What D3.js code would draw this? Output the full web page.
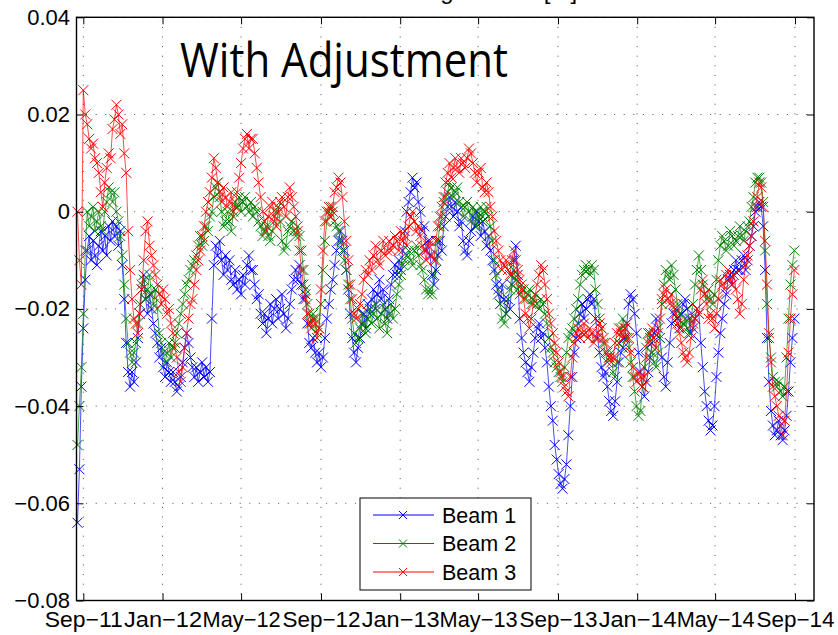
<!DOCTYPE html>
<html>
<head>
<meta charset="utf-8">
<script src="https://cdn.jsdelivr.net/npm/d3@7"></script>
<style>
  body{margin:0;background:#fff;}
</style>
</head>
<body>
<div class="canvas"></div>
<script>
// sampling of the series (one value every 3 days)
const startDate = new Date(2011, 7, 23);
const stepDays = 3;

const beam1 = [
  -0.064,-0.053,-0.036,-0.024,-0.014,-0.008,-0.005,-0.010,-0.006,-0.009,
  -0.011,-0.007,-0.004,-0.008,-0.005,-0.009,-0.003,-0.006,-0.002,-0.005,
  -0.003,-0.007,-0.004,-0.011,-0.018,-0.027,-0.033,-0.036,-0.033,-0.035,
  -0.031,-0.026,-0.021,-0.016,-0.013,-0.018,-0.021,-0.017,-0.020,-0.023,
  -0.025,-0.027,-0.030,-0.028,-0.032,-0.034,-0.031,-0.033,-0.035,-0.033,
  -0.035,-0.037,-0.036,-0.034,-0.031,-0.028,-0.025,-0.027,-0.030,-0.032,
  -0.034,-0.032,-0.035,-0.033,-0.031,-0.034,-0.032,-0.035,-0.033,-0.022,
  -0.011,-0.007,-0.009,-0.006,-0.010,-0.013,-0.009,-0.012,-0.010,-0.014,
  -0.015,-0.012,-0.016,-0.014,-0.017,-0.013,-0.015,-0.011,-0.009,-0.012,
  -0.012,-0.015,-0.018,-0.017,-0.021,-0.023,-0.021,-0.025,-0.022,-0.019,
  -0.023,-0.020,-0.018,-0.022,-0.020,-0.017,-0.021,-0.024,-0.022,-0.019,
  -0.016,-0.014,-0.012,-0.014,-0.011,-0.015,-0.018,-0.017,-0.023,-0.027,
  -0.028,-0.026,-0.029,-0.031,-0.029,-0.032,-0.030,-0.026,-0.022,-0.019,
  -0.016,-0.014,-0.011,-0.008,-0.006,-0.004,-0.006,-0.008,-0.012,-0.016,
  -0.021,-0.026,-0.029,-0.031,-0.028,-0.026,-0.023,-0.021,-0.024,-0.019,
  -0.021,-0.018,-0.016,-0.020,-0.017,-0.014,-0.018,-0.016,-0.020,-0.022,
  -0.018,-0.015,-0.013,-0.011,-0.013,-0.010,-0.012,-0.008,-0.004,0.000,
  0.002,0.004,0.007,0.005,0.006,0.002,0.000,-0.004,-0.003,-0.008,
  -0.006,-0.009,-0.013,-0.015,-0.012,-0.009,-0.006,-0.008,-0.003,-0.001,
  0.001,0.003,0.001,-0.001,0.002,0.000,-0.003,-0.002,-0.006,-0.008,
  -0.009,-0.006,-0.004,-0.001,-0.003,0.000,-0.002,-0.005,-0.002,-0.004,
  -0.007,-0.005,-0.008,-0.010,-0.012,-0.015,-0.017,-0.019,-0.015,-0.018,
  -0.021,-0.018,-0.020,-0.015,-0.010,-0.007,-0.013,-0.022,-0.026,-0.029,
  -0.031,-0.033,-0.035,-0.032,-0.029,-0.026,-0.024,-0.023,-0.026,-0.025,
  -0.028,-0.031,-0.036,-0.040,-0.043,-0.048,-0.051,-0.054,-0.056,-0.057,
  -0.055,-0.052,-0.046,-0.040,-0.034,-0.029,-0.026,-0.023,-0.021,-0.019,
  -0.022,-0.020,-0.018,-0.017,-0.019,-0.018,-0.022,-0.026,-0.029,-0.032,
  -0.034,-0.033,-0.036,-0.039,-0.041,-0.042,-0.039,-0.035,-0.031,-0.029,
  -0.028,-0.026,-0.023,-0.019,-0.017,-0.018,-0.021,-0.025,-0.029,-0.033,
  -0.036,-0.038,-0.035,-0.033,-0.030,-0.027,-0.025,-0.022,-0.024,-0.026,
  -0.030,-0.034,-0.036,-0.031,-0.027,-0.023,-0.021,-0.020,-0.022,-0.024,
  -0.021,-0.019,-0.018,-0.020,-0.022,-0.025,-0.024,-0.022,-0.020,-0.021,
  -0.027,-0.032,-0.037,-0.040,-0.043,-0.045,-0.044,-0.040,-0.034,-0.029,
  -0.025,-0.022,-0.019,-0.017,-0.014,-0.013,-0.015,-0.012,-0.010,-0.012,
  -0.012,-0.010,-0.009,-0.012,-0.010,-0.007,-0.005,-0.003,0.000,0.001,
  0.002,0.001,-0.003,-0.012,-0.026,-0.035,-0.041,-0.044,-0.046,-0.045,
  -0.043,-0.046,-0.047,-0.045,-0.042,-0.037,-0.031,-0.026,-0.022
];
const beam2 = [
  -0.048,-0.040,-0.032,-0.021,-0.008,0.000,-0.003,-0.001,0.001,-0.004,
  -0.002,0.000,-0.003,-0.004,0.000,0.002,0.005,0.004,0.002,0.004,
  0.000,-0.002,-0.005,-0.009,-0.015,-0.022,-0.027,-0.029,-0.031,-0.029,
  -0.027,-0.023,-0.019,-0.015,-0.014,-0.018,-0.016,-0.013,-0.017,-0.019,
  -0.016,-0.020,-0.025,-0.027,-0.029,-0.031,-0.029,-0.027,-0.030,-0.028,
  -0.027,-0.025,-0.023,-0.021,-0.019,-0.017,-0.015,-0.014,-0.012,-0.011,
  -0.010,-0.009,-0.007,-0.005,-0.007,-0.006,-0.003,-0.004,-0.001,0.000,
  0.003,0.005,0.006,0.003,0.000,-0.003,-0.002,0.000,-0.002,-0.004,
  0.000,0.002,0.001,0.003,0.000,0.002,0.003,0.001,0.000,0.002,
  -0.001,0.001,0.000,-0.002,-0.003,-0.005,-0.004,-0.003,-0.005,-0.006,
  -0.004,-0.002,0.000,0.001,-0.002,-0.006,-0.008,-0.007,-0.004,-0.003,
  -0.002,-0.004,-0.005,-0.003,-0.005,-0.008,-0.012,-0.016,-0.019,-0.021,
  -0.023,-0.021,-0.022,-0.025,-0.024,-0.019,-0.012,-0.006,-0.002,0.000,
  0.001,0.000,-0.002,-0.003,-0.004,-0.006,-0.008,-0.010,-0.012,-0.015,
  -0.018,-0.022,-0.025,-0.027,-0.026,-0.024,-0.021,-0.023,-0.025,-0.022,
  -0.020,-0.023,-0.021,-0.019,-0.022,-0.024,-0.021,-0.019,-0.023,-0.025,
  -0.021,-0.019,-0.022,-0.020,-0.017,-0.015,-0.013,-0.011,-0.010,-0.009,
  -0.008,-0.010,-0.011,-0.008,-0.007,-0.009,-0.011,-0.012,-0.014,-0.016,
  -0.017,-0.016,-0.017,-0.013,-0.010,-0.006,-0.003,-0.001,0.002,0.003,
  0.004,0.006,0.005,0.003,0.004,0.005,0.002,0.001,-0.001,0.001,
  0.002,0.000,-0.002,0.001,0.000,-0.003,-0.001,0.001,-0.001,0.000,
  0.001,-0.001,-0.003,-0.006,-0.010,-0.013,-0.016,-0.019,-0.022,-0.023,
  -0.021,-0.018,-0.016,-0.013,-0.012,-0.014,-0.016,-0.017,-0.015,-0.016,
  -0.018,-0.017,-0.016,-0.019,-0.018,-0.017,-0.019,-0.020,-0.018,-0.019,
  -0.021,-0.023,-0.026,-0.028,-0.029,-0.031,-0.032,-0.033,-0.034,-0.035,
  -0.032,-0.029,-0.026,-0.025,-0.024,-0.022,-0.020,-0.018,-0.015,-0.013,
  -0.012,-0.011,-0.012,-0.013,-0.011,-0.012,-0.016,-0.019,-0.022,-0.024,
  -0.027,-0.029,-0.031,-0.030,-0.029,-0.033,-0.034,-0.031,-0.027,-0.024,
  -0.022,-0.024,-0.026,-0.028,-0.031,-0.034,-0.037,-0.040,-0.042,-0.041,
  -0.036,-0.032,-0.028,-0.025,-0.026,-0.029,-0.031,-0.032,-0.029,-0.026,
  -0.019,-0.015,-0.012,-0.013,-0.014,-0.011,-0.013,-0.016,-0.019,-0.021,
  -0.024,-0.023,-0.022,-0.024,-0.025,-0.022,-0.019,-0.015,-0.012,-0.009,
  -0.012,-0.015,-0.017,-0.018,-0.016,-0.018,-0.019,-0.017,-0.014,-0.010,
  -0.007,-0.005,-0.006,-0.008,-0.007,-0.004,-0.005,-0.007,-0.006,-0.005,
  -0.003,-0.005,-0.006,-0.004,-0.003,-0.002,0.001,0.003,0.006,0.007,
  0.007,0.006,0.002,-0.008,-0.019,-0.026,-0.030,-0.034,-0.035,-0.036,
  -0.035,-0.037,-0.038,-0.036,-0.030,-0.022,-0.015,-0.011,-0.008
];
const beam3 = [
  0.000,-0.010,-0.015,0.025,0.020,0.018,0.015,0.013,0.014,0.011,
  0.010,0.008,0.004,0.001,0.006,0.009,0.012,0.011,0.017,0.019,
  0.022,0.020,0.016,0.018,0.012,0.008,-0.004,-0.012,-0.018,-0.022,
  -0.023,-0.025,-0.021,-0.016,-0.010,-0.004,-0.002,-0.007,-0.009,-0.011,
  -0.013,-0.015,-0.017,-0.019,-0.016,-0.018,-0.021,-0.020,-0.023,-0.025,
  -0.028,-0.030,-0.033,-0.035,-0.032,-0.028,-0.025,-0.022,-0.019,-0.018,
  -0.015,-0.012,-0.010,-0.008,-0.005,-0.003,0.000,0.002,0.004,0.007,
  0.011,0.009,0.006,0.004,0.002,0.005,0.003,0.001,0.002,0.004,
  -0.001,0.001,0.004,0.007,0.010,0.013,0.015,0.016,0.013,0.015,
  0.015,0.012,0.009,0.006,0.003,0.000,-0.002,-0.004,-0.001,0.001,
  0.002,-0.001,-0.003,0.000,0.002,0.003,0.001,-0.001,0.003,0.005,
  0.003,0.001,-0.001,-0.004,-0.008,-0.012,-0.015,-0.018,-0.021,-0.023,
  -0.024,-0.022,-0.023,-0.026,-0.024,-0.016,-0.008,-0.002,0.000,0.001,
  -0.001,0.001,0.004,0.005,0.007,0.006,0.003,-0.002,-0.006,-0.010,
  -0.015,-0.018,-0.021,-0.022,-0.020,-0.019,-0.017,-0.014,-0.012,-0.013,
  -0.010,-0.012,-0.009,-0.007,-0.010,-0.011,-0.008,-0.006,-0.009,-0.008,
  -0.006,-0.008,-0.007,-0.005,-0.006,-0.008,-0.004,-0.006,-0.005,-0.007,
  -0.003,-0.001,0.000,-0.002,-0.004,-0.003,-0.005,-0.007,-0.008,-0.010,
  -0.007,-0.006,-0.009,-0.010,-0.006,-0.003,-0.001,0.001,0.003,0.006,
  0.008,0.010,0.007,0.009,0.011,0.009,0.008,0.011,0.010,0.009,
  0.011,0.013,0.012,0.010,0.008,0.006,0.008,0.009,0.005,0.004,
  0.006,0.004,0.001,-0.001,-0.004,-0.006,-0.008,-0.010,-0.012,-0.011,
  -0.010,-0.012,-0.013,-0.010,-0.008,-0.010,-0.012,-0.014,-0.016,-0.018,
  -0.021,-0.022,-0.024,-0.022,-0.019,-0.017,-0.015,-0.013,-0.011,-0.012,
  -0.015,-0.018,-0.021,-0.023,-0.025,-0.027,-0.029,-0.031,-0.033,-0.034,
  -0.036,-0.037,-0.038,-0.034,-0.030,-0.027,-0.025,-0.024,-0.026,-0.025,
  -0.023,-0.025,-0.026,-0.024,-0.025,-0.027,-0.026,-0.025,-0.023,-0.024,
  -0.026,-0.027,-0.029,-0.030,-0.031,-0.030,-0.027,-0.025,-0.024,-0.025,
  -0.026,-0.024,-0.023,-0.026,-0.029,-0.032,-0.034,-0.035,-0.033,-0.034,
  -0.036,-0.034,-0.030,-0.027,-0.025,-0.024,-0.026,-0.028,-0.025,-0.022,
  -0.018,-0.017,-0.016,-0.018,-0.019,-0.017,-0.019,-0.021,-0.023,-0.025,
  -0.027,-0.029,-0.030,-0.031,-0.029,-0.026,-0.023,-0.022,-0.020,-0.021,
  -0.016,-0.014,-0.017,-0.019,-0.022,-0.021,-0.022,-0.024,-0.021,-0.018,
  -0.014,-0.015,-0.016,-0.013,-0.012,-0.014,-0.015,-0.013,-0.016,-0.018,
  -0.021,-0.019,-0.014,-0.011,-0.009,-0.007,-0.005,-0.002,0.001,0.003,
  0.006,0.005,0.001,-0.006,-0.015,-0.025,-0.031,-0.036,-0.038,-0.040,
  -0.042,-0.044,-0.046,-0.043,-0.037,-0.029,-0.022,-0.017,-0.012
];

const seriesNames = ['Beam 1', 'Beam 2', 'Beam 3'];
const seriesColors = ['#0000ff', '#008000', '#ff0000'];

const tickDates = ['2011-09-01','2012-01-01','2012-05-01','2012-09-01','2013-01-01',
                   '2013-05-01','2013-09-01','2014-01-01','2014-05-01','2014-09-01'];
const tickLabels = ['Sep\u221211','Jan\u221212','May\u221212','Sep\u221212','Jan\u221213',
                    'May\u221213','Sep\u221213','Jan\u221214','May\u221214','Sep\u221214'];
const yTicks = [0.04, 0.02, 0, -0.02, -0.04, -0.06, -0.08];
const yTickLabels = ['0.04','0.02','0','\u22120.02','\u22120.04','\u22120.06','\u22120.08'];

const width = 838, height = 635;
const margin = {top: 17.3, right: 24, bottom: 34.5, left: 76.5};
const graphWidth = width - margin.left - margin.right;
const graphHeight = height - margin.top - margin.bottom;
const sans = "'Liberation Sans', Arial, Helvetica, sans-serif";

const svg = d3.select('.canvas').append('svg')
    .attr('width', width)
    .attr('height', height)
    .style('font-family', sans);

const graph = svg.append('g')
    .attr('transform', `translate(${margin.left},${margin.top})`);

const parse = d3.timeParse('%Y-%m-%d');
const tickVals = tickDates.map(parse);

const x = d3.scaleTime()
    .domain([new Date(2011, 7, 21, 12), new Date(2014, 8, 30, 7)])
    .range([0, graphWidth]);
const y = d3.scaleLinear()
    .domain([-0.08, 0.04])
    .range([graphHeight, 0]);

// dotted grid
const grid = graph.append('g')
    .attr('stroke', '#3a3a3a')
    .attr('stroke-width', 0.9)
    .attr('stroke-dasharray', '1,8.6');
grid.selectAll('.vg').data(tickVals).enter().append('line')
    .attr('x1', d => x(d)).attr('x2', d => x(d))
    .attr('y1', 0).attr('y2', graphHeight);
grid.selectAll('.hg').data(yTicks).enter().append('line')
    .attr('y1', d => y(d)).attr('y2', d => y(d))
    .attr('x1', 0).attr('x2', graphWidth);

// series: blue first, red ends on top
const series = [beam1, beam2, beam3].map((vals, k) => ({
  name: seriesNames[k],
  color: seriesColors[k],
  points: vals.map((v, i) => ({date: d3.timeDay.offset(startDate, i * stepDays), v: v}))
}));

const line = d3.line().x(d => x(d.date)).y(d => y(d.v));
const cross = 'M-4,-4L4,4M-4,4L4,-4';
const bigCross = 'M-5,-5L5,5M-5,5L5,-5';

series.forEach(s => {
  const g = graph.append('g');
  g.append('path')
      .datum(s.points)
      .attr('d', line)
      .attr('fill', 'none')
      .attr('stroke', s.color)
      .attr('stroke-opacity', 0.7)
      .attr('stroke-width', 1);
  g.selectAll('path.mk').data(s.points).enter().append('path')
      .attr('class', 'mk')
      .attr('d', bigCross)
      .attr('transform', d => `translate(${x(d.date)},${y(d.v)})`)
      .attr('stroke', s.color)
      .attr('stroke-width', 1)
      .attr('fill', 'none');
});

// axes, ticks pointing inwards on all four sides
const xAxis = d3.axisBottom(x).tickValues(tickVals)
    .tickFormat((d, i) => tickLabels[i]).tickSizeInner(-7).tickSizeOuter(0).tickPadding(11.5);
const yAxis = d3.axisLeft(y).tickValues(yTicks)
    .tickFormat((d, i) => yTickLabels[i]).tickSizeInner(-7).tickSizeOuter(0).tickPadding(6.5);

const xAxisGroup = graph.append('g').attr('transform', `translate(0,${graphHeight})`).call(xAxis);
const yAxisGroup = graph.append('g').call(yAxis);
graph.append('g').call(d3.axisTop(x).tickValues(tickVals).tickFormat('').tickSizeInner(-7).tickSizeOuter(0));
graph.append('g').attr('transform', `translate(${graphWidth},0)`)
    .call(d3.axisRight(y).tickValues(yTicks).tickFormat('').tickSizeInner(-7).tickSizeOuter(0));

graph.selectAll('.domain').remove();
graph.selectAll('.tick line').attr('stroke', '#000').attr('stroke-width', 1);

// the date labels sit edge to edge in the original
xAxisGroup.selectAll('text')
    .attr('font-family', sans)
    .attr('font-size', 21.5).attr('fill', '#000')
    .attr('textLength', 78).attr('lengthAdjust', 'spacingAndGlyphs');
yAxisGroup.selectAll('text')
    .attr('font-family', sans)
    .attr('font-size', 22).attr('fill', '#000');

// box
graph.append('rect')
    .attr('width', graphWidth).attr('height', graphHeight)
    .attr('fill', 'none').attr('stroke', '#000').attr('stroke-width', 1.4);

// title, mostly outside the picture
svg.append('text')
    .attr('x', margin.left + graphWidth / 2 + 8).attr('y', -1.5)
    .attr('text-anchor', 'middle')
    .attr('font-size', 24)
    .text('Mean Range Offset [m]');

// annotation
svg.append('text')
    .attr('x', 180).attr('y', 77)
    .style('font-family', "'Open Sans', 'Noto Sans', sans-serif")
    .attr('font-size', 47)
    .attr('textLength', 328)
    .attr('lengthAdjust', 'spacingAndGlyphs')
    .attr('fill', '#000')
    .text('With Adjustment');

// legend
const legend = svg.append('g').attr('transform', 'translate(360,498)');
legend.append('rect')
    .attr('width', 171).attr('height', 92)
    .attr('fill', '#fff').attr('stroke', '#000').attr('stroke-width', 1);
const rows = legend.selectAll('.row').data(series).enter().append('g')
    .attr('transform', (d, i) => `translate(0,${17 + i * 28.5})`);
rows.append('line')
    .attr('x1', 13).attr('x2', 74)
    .attr('stroke', d => d.color).attr('stroke-width', 1);
rows.append('path')
    .attr('d', cross)
    .attr('transform', 'translate(43,0)')
    .attr('stroke', d => d.color).attr('fill', 'none');
rows.append('text')
    .attr('x', 82).attr('dy', '0.36em')
    .attr('font-size', 21.5)
    .text(d => d.name);
</script>
</body>
</html>
